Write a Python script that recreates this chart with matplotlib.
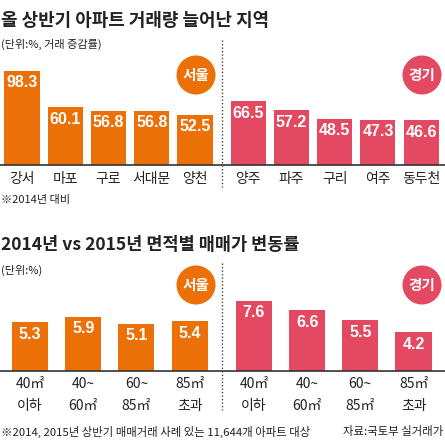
import matplotlib
matplotlib.use("Agg")
import matplotlib.pyplot as plt
from matplotlib.patches import Circle

plt.rcParams['font.family'] = ['Noto Sans CJK KR', 'DejaVu Sans']

ORANGE = '#EC7008'
PINK = '#E34A62'
DARK = '#222222'
NUM_FONT = ['Liberation Sans', 'DejaVu Sans']

# top chart: change in apartment trades, H1 vs 2014 (%)
seoul_areas = ['강서', '마포', '구로', '서대문', '양천']
seoul_trade = [98.3, 60.1, 56.8, 56.8, 52.5]
gg_areas = ['양주', '파주', '구리', '여주', '동두천']
gg_trade = [66.5, 57.2, 48.5, 47.3, 46.6]

# bottom chart: price change by floor area (%)
size_labels = ['40㎡\n이하', '40~\n60㎡', '60~\n85㎡', '85㎡\n초과']
seoul_price = [5.3, 5.9, 5.1, 5.4]
gg_price = [7.6, 6.6, 5.5, 4.2]

W, H = 445, 443
fig = plt.figure(figsize=(W / 100, H / 100), dpi=100)


def bar_panel(rect, xlim, ylim, xs, vals, labels, color, pad, width, lsp):
    ax = fig.add_axes(rect)
    ax.bar(xs, vals, width=width, color=color, zorder=2)
    for x, v in zip(xs, vals):
        ax.annotate(f'{v:.1f}', (x, v), xytext=(0, -8.5),
                    textcoords='offset points', ha='center', va='center',
                    color='white', fontsize=11.5, fontweight='bold', family=NUM_FONT)
    ax.set_xlim(*xlim)
    ax.set_ylim(*ylim)
    ax.set_xticks(xs)
    ax.set_xticklabels(labels, fontsize=10, color=DARK, linespacing=lsp)
    ax.tick_params(axis='x', length=0, pad=pad)
    ax.set_yticks([])
    for s in ['top', 'left', 'right']:
        ax.spines[s].set_visible(False)
    ax.spines['bottom'].set_color('#333333')
    ax.spines['bottom'].set_linewidth(1.2)
    ax.patch.set_alpha(0)
    return ax


# top bars: pixel x = 22 + 43.25 * i
top_x = [0, 1, 2, 3, 4, 5.23, 6.23, 7.23, 8.23, 9.23]
ax1 = bar_panel([0, (H - 165) / H, 1, 105 / H], (-22 / 43.25, (W - 22) / 43.25), (0, 109.7),
                top_x, seoul_trade + gg_trade, seoul_areas + gg_areas,
                [ORANGE] * 5 + [PINK] * 5, 5, 0.81, 1.5)

# bottom bars: pixel x = 30 + 53.2 * i
bot_x = [0, 1, 2, 3, 4.21, 5.21, 6.21, 7.21]
ax2 = bar_panel([0, (H - 371) / H, 1, 81 / H], (-30 / 53.2, (W - 30) / 53.2), (0, 8.8),
                bot_x, seoul_price + gg_price, size_labels * 2,
                [ORANGE] * 4 + [PINK] * 4, 4, 0.68, 1.75)

# overlay in pixel coordinates for titles, notes and badges
ov = fig.add_axes([0, 0, 1, 1], zorder=5)
ov.set_xlim(0, W)
ov.set_ylim(H, 0)
ov.axis('off')
ov.patch.set_alpha(0)

ov.text(1, 21, '올 상반기 아파트 거래량 늘어난 지역', fontsize=12.9, fontweight='bold',
        color=DARK, va='center', ha='left')
ov.text(1, 44, '(단위:%, 거래 증감률)', fontsize=8, color=DARK, va='center', ha='left')
ov.text(1, 200, '※2014년 대비', fontsize=8, color=DARK, va='center', ha='left')

ov.text(1, 245, '2014년 vs 2015년 면적별 매매가 변동률', fontsize=12.6, fontweight='bold',
        color=DARK, va='center', ha='left')
ov.text(1, 270, '(단위:%)', fontsize=8, color=DARK, va='center', ha='left')
ov.text(1, 432, '※2014, 2015년 상반기 매매거래 사례 있는 11,644개 아파트 대상',
        fontsize=8.2, color=DARK, va='center', ha='left')
ov.text(443, 432, '자료:국토부 실거래가', fontsize=8.2, color=DARK, va='center', ha='right')

for cy in (75, 285):
    for cx, col, name in ((196, ORANGE, '서울'), (422, PINK, '경기')):
        ov.add_patch(Circle((cx, cy), 19.5, color=col, lw=0))
        ov.text(cx, cy, name, color='white', fontsize=10.5, fontweight='bold',
                ha='center', va='center')

ov.vlines(222, 40, 187, colors='#444444', linestyles=(0, (1, 1.5)), lw=1)
ov.vlines(222, 263, 410, colors='#444444', linestyles=(0, (1, 1.5)), lw=1)

fig.savefig('out.png', dpi=100)
